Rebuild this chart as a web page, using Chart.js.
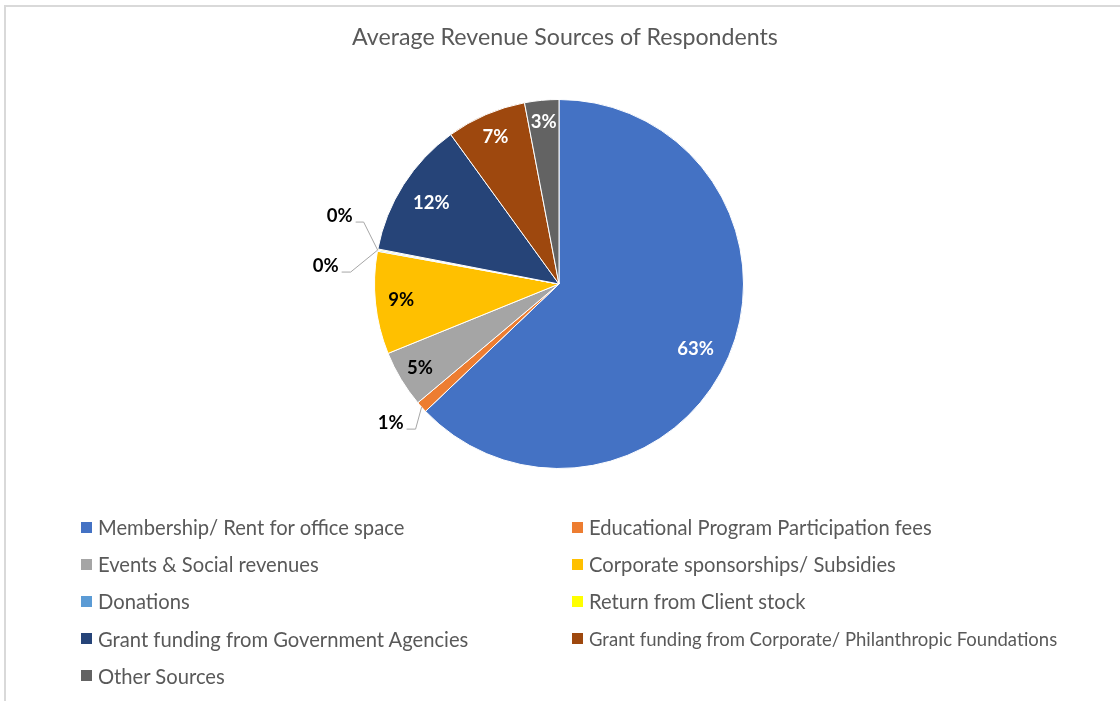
<!DOCTYPE html>
<html>
<head>
<meta charset="utf-8">
<script src="https://cdn.jsdelivr.net/npm/chart.js@4.4.0/dist/chart.umd.min.js"></script>
<style>
  body { margin: 0; background: #fff; }
  #wrap { position: relative; width: 1120px; height: 701px; overflow: hidden; font-family: Lato, "Open Sans", sans-serif; }
  #frame { position: absolute; left: 4px; top: 5px; width: 1130px; height: 710px; border-left: 2px solid #d9d9d9; border-top: 2px solid #d9d9d9; }
  #pie { position: absolute; left: 0; top: 0; }
  #title { position: absolute; left: 565px; top: 22px; transform: translateX(-50%); white-space: nowrap; font-size: 23.2px; color: #595959; }
  .item { position: absolute; height: 26px; line-height: 26px; display: flex; align-items: center; white-space: nowrap; font-size: 20.2px; color: #595959; }
  .item span.box { width: 11px; height: 11px; margin-right: 6px; flex: none; }
</style>
</head>
<body>
<div id="wrap">
  <div id="frame"></div>
  <canvas id="pie" width="1120" height="701"></canvas>
  <div id="title">Average Revenue Sources of Respondents</div>
  <div id="legend"></div>
</div>
<script>
// chart data
var categories = [
  "Membership/ Rent for office space",
  "Educational Program Participation fees",
  "Events & Social revenues",
  "Corporate sponsorships/ Subsidies",
  "Donations",
  "Return from Client stock",
  "Grant funding from Government Agencies",
  "Grant funding from Corporate/ Philanthropic Foundations",
  "Other Sources"
];
var shares = [63, 1, 5, 9, 0.1, 0.1, 12, 7, 3];
var colors = ["#4472C4", "#ED7D31", "#A5A5A5", "#FFC000", "#5B9BD5", "#FFFF00", "#264478", "#9E480E", "#636363"];

// build the legend (two columns)
var legend = document.getElementById("legend");
categories.forEach(function (name, i) {
  var item = document.createElement("div");
  item.className = "item";
  item.style.left = (i % 2 == 0 ? 81 : 572) + "px";
  item.style.top = (527 - 13 + Math.floor(i / 2) * 37.2) + "px";
  if (i == 7) item.style.fontSize = "18.5px";
  item.innerHTML = '<span class="box" style="background:' + colors[i] + '"></span>' + name.replace("&", "&amp;");
  legend.appendChild(item);
});

// label placement: inside slices at a fraction of the radius, or outside with a leader
var labelStyle = {
  0: { f: 0.82, turn: 0.04, color: "#fff" },
  1: { out: [[-6, 22], [-15, 22]] },
  2: { f: 0.88, color: "#000" },
  3: { f: 0.86, color: "#000" },
  4: { out: [[-27, 22], [-36, 22]], anchorEnd: true },
  5: { out: [[-14, -28], [-22, -28]], anchorStart: true },
  6: { f: 0.82, color: "#fff" },
  7: { f: 0.87, color: "#fff" },
  8: { f: 0.88, color: "#fff" }
};

var pieLabels = {
  id: "pieLabels",
  afterDatasetsDraw: function (chart) {
    var ctx = chart.ctx;
    var meta = chart.getDatasetMeta(0);
    ctx.save();
    ctx.font = "bold 18.5px Lato, 'Open Sans', sans-serif";
    ctx.textBaseline = "middle";
    meta.data.forEach(function (arc, i) {
      var st = labelStyle[i];
      var text = Math.round(shares[i]) + "%";
      var a = (arc.startAngle + arc.endAngle) / 2 + (st.turn || 0);
      if (st.anchorEnd) a = arc.endAngle;
      if (st.anchorStart) a = arc.startAngle;
      var r = arc.outerRadius;
      if (st.out) {
        var ax = arc.x + Math.cos(a) * r;
        var ay = arc.y + Math.sin(a) * r;
        ctx.strokeStyle = "#a6a6a6";
        ctx.lineWidth = 1;
        ctx.beginPath();
        ctx.moveTo(ax, ay);
        ctx.lineTo(ax + st.out[0][0], ay + st.out[0][1]);
        ctx.lineTo(ax + st.out[1][0], ay + st.out[1][1]);
        ctx.stroke();
        ctx.fillStyle = "#000";
        ctx.textAlign = "right";
        ctx.fillText(text, ax + st.out[1][0] - 3, ay + st.out[1][1] - 6);
      } else {
        ctx.fillStyle = st.color;
        ctx.textAlign = "center";
        ctx.fillText(text, arc.x + Math.cos(a) * r * st.f, arc.y + Math.sin(a) * r * st.f);
      }
    });
    ctx.restore();
  }
};

new Chart(document.getElementById("pie").getContext("2d"), {
  type: "pie",
  data: {
    labels: categories,
    datasets: [{
      data: shares,
      backgroundColor: colors,
      borderColor: "#fff",
      borderWidth: 1
    }]
  },
  options: {
    responsive: false,
    devicePixelRatio: 1,
    animation: false,
    layout: { padding: { left: 374, right: 376, top: 99, bottom: 232 } },
    plugins: {
      legend: { display: false },
      title: { display: false },
      tooltip: { enabled: false }
    }
  },
  plugins: [pieLabels]
});
</script>
</body>
</html>
